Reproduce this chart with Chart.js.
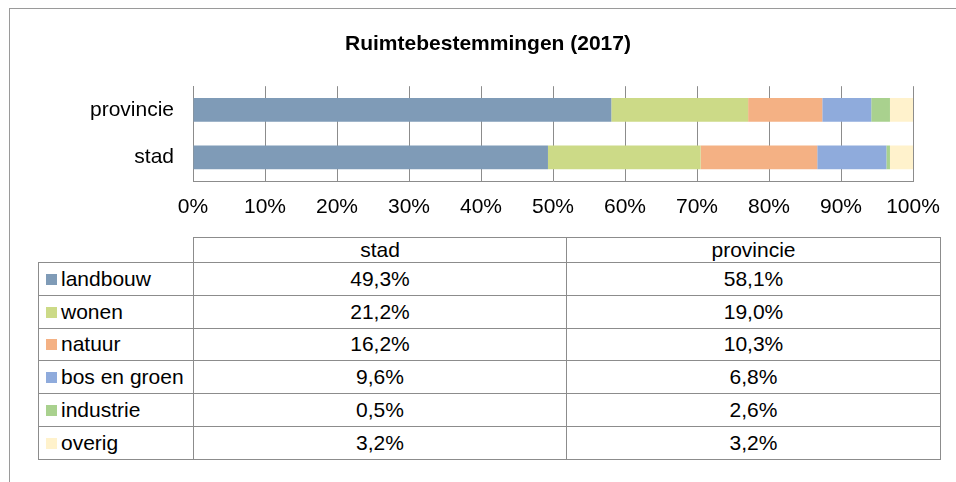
<!DOCTYPE html>
<html>
<head>
<meta charset="utf-8">
<script src="https://cdn.jsdelivr.net/npm/chart.js@4"></script>
<style>
  body { margin: 0; width: 956px; height: 482px; overflow: hidden; background: #fff; position: relative; font-family: "Liberation Sans", Arial, sans-serif; }
  #frame { position: absolute; left: 9px; top: 8px; width: 1000px; height: 600px; border: 1px solid #9a9a9a; }
  #chart { position: absolute; left: 0; top: 0; }
  #datatable { position: absolute; left: 38px; top: 237px; width: 902px; border-collapse: collapse; table-layout: fixed; font-size: 21px; color: #000; }
  #datatable td, #datatable th { border: 1px solid #8c8c8c; padding: 0; font-weight: normal; text-align: center; line-height: 22px; }
  #datatable thead th { height: 24px; }
  #datatable thead th.blank { border-top: none; border-left: none; }
  #datatable tbody td { height: 31.8px; }
  #datatable tbody td.lbl { text-align: left; padding-left: 7px; white-space: nowrap; }
  .sw { display: inline-block; width: 11px; height: 11px; margin-right: 4px; vertical-align: 1px; }
</style>
</head>
<body>
<div id="frame"></div>
<canvas id="chart" width="976" height="230"></canvas>
<table id="datatable">
  <colgroup><col style="width:155px"><col style="width:373px"><col style="width:374px"></colgroup>
  <thead><tr id="headrow"><th class="blank"></th></tr></thead>
  <tbody id="tbody"></tbody>
</table>
<script>
// categories as drawn top to bottom
const categories = ["provincie", "stad"];
const tableColumns = ["stad", "provincie"];
const seriesNames = ["landbouw", "wonen", "natuur", "bos en groen", "industrie", "overig"];
const seriesColors = ["#7f9bb7", "#ccda87", "#f4b184", "#8fabdc", "#a9d18e", "#fff2cc"];
const stadValues = [49.3, 21.2, 16.2, 9.6, 0.5, 3.2];
const provincieValues = [58.1, 19.0, 10.3, 6.8, 2.6, 3.2];
const tickValues = [0, 10, 20, 30, 40, 50, 60, 70, 80, 90, 100];

const valuesByCat = { stad: stadValues, provincie: provincieValues };
const fmt = v => v.toFixed(1).replace(".", ",") + "%";

const datasets = seriesNames.map((name, i) => ({
  label: name,
  data: categories.map(c => valuesByCat[c][i]),
  backgroundColor: seriesColors[i],
  borderWidth: 0,
  categoryPercentage: 0.5,
  barPercentage: 1
}));

const font = { family: "'Liberation Sans', Arial, sans-serif", size: 21 };

new Chart(document.getElementById("chart"), {
  type: "bar",
  data: { labels: categories, datasets: datasets },
  options: {
    indexAxis: "y",
    responsive: false,
    animation: false,
    // left/right padding equal so the title centres on the frame
    layout: { padding: { left: 63, right: 63, top: 0, bottom: 0 } },
    plugins: {
      legend: { display: false },
      tooltip: { enabled: false },
      title: {
        display: true,
        text: "Ruimtebestemmingen (2017)",
        color: "#000",
        font: { family: font.family, size: 21, weight: "bold" },
        padding: { top: 32, bottom: 29 }
      }
    },
    scales: {
      x: {
        stacked: true,
        min: 0,
        max: 100,
        afterBuildTicks: s => { s.ticks = tickValues.map(v => ({ value: v })); },
        afterFit: s => { s.height = 49; },
        ticks: { color: "#000", font: font, padding: 14, callback: v => v + "%" },
        grid: { color: "#8c8c8c", drawTicks: false },
        border: { color: "#8c8c8c" }
      },
      y: {
        stacked: true,
        afterFit: s => { s.width = 130; },
        ticks: { color: "#000", font: font, padding: 19 },
        grid: { display: false, drawTicks: false },
        border: { color: "#8c8c8c" }
      }
    }
  }
});

// data table under the chart
const headrow = document.getElementById("headrow");
tableColumns.forEach(c => {
  const th = document.createElement("th");
  th.textContent = c;
  headrow.appendChild(th);
});
const tbody = document.getElementById("tbody");
seriesNames.forEach((name, i) => {
  const tr = document.createElement("tr");
  const lbl = document.createElement("td");
  lbl.className = "lbl";
  const sw = document.createElement("span");
  sw.className = "sw";
  sw.style.background = seriesColors[i];
  lbl.appendChild(sw);
  lbl.appendChild(document.createTextNode(name));
  tr.appendChild(lbl);
  tableColumns.forEach(c => {
    const td = document.createElement("td");
    td.textContent = fmt(valuesByCat[c][i]);
    tr.appendChild(td);
  });
  tbody.appendChild(tr);
});
</script>
</body>
</html>
